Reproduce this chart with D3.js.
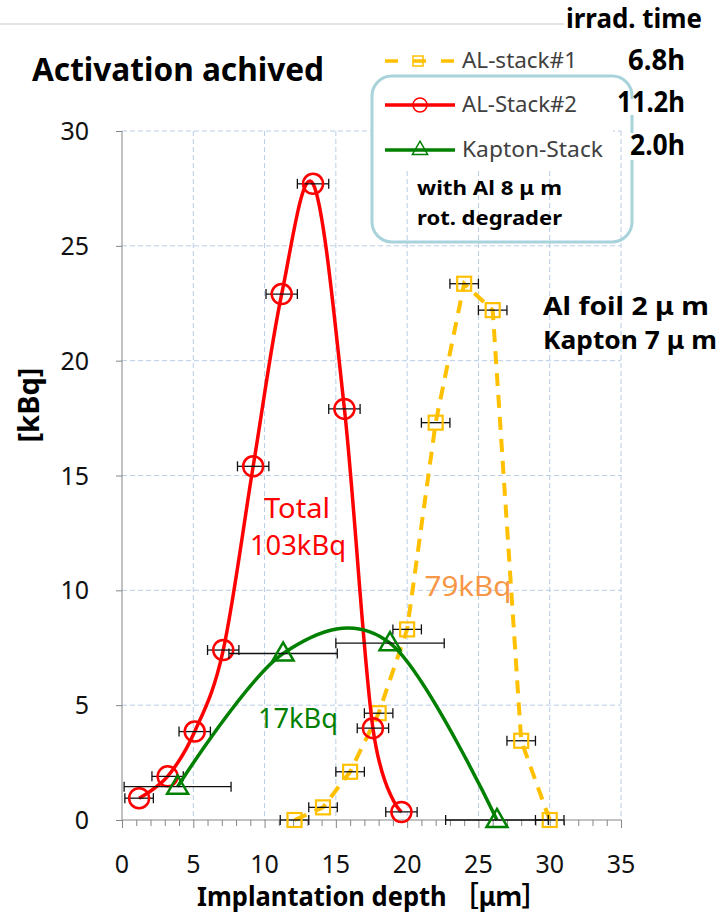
<!DOCTYPE html>
<html>
<head>
<meta charset="utf-8">
<script src="https://cdn.jsdelivr.net/npm/d3@7"></script>
<style>
  body { margin: 0; background: #fff; }
  svg { display: block; font-family: "Noto Sans", "Noto Sans CJK JP", sans-serif; }
</style>
</head>
<body>
<svg id="chart" width="724" height="916"></svg>
<script>
// ── Data ────────────────────────────────────────────────────────
const stack1X   = [12.1, 14.1, 16.0, 18.0, 20.0, 22.0, 24.0, 26.0, 28.0, 30.0];
const stack1Y   = [0.0, 0.55, 2.1, 4.65, 8.3, 17.3, 23.35, 22.2, 3.45, 0.0];
const stack1Err = [1.0, 1.0, 1.0, 1.0, 1.0, 1.0, 1.0, 1.0, 1.0, 1.0];

const stack2X   = [1.2, 3.2, 5.1, 7.1, 9.2, 11.2, 13.4, 15.6, 17.6, 19.6];
const stack2Y   = [0.95, 1.9, 3.85, 7.4, 15.4, 22.9, 27.7, 17.9, 4.0, 0.35];
const stack2Err = [1.0, 1.1, 1.1, 1.1, 1.1, 1.1, 1.1, 1.1, 1.1, 1.1];

const kaptonX   = [3.9, 11.3, 18.8, 26.3];
const kaptonY   = [1.45, 7.25, 7.7, 0.0];
const kaptonErr = [3.75, 3.8, 3.8, 3.6];

const seriesNames = ['AL-stack#1', 'AL-Stack#2', 'Kapton-Stack'];
const irradTimes  = ['6.8h', '11.2h', '2.0h'];
const xTickVals   = [0, 5, 10, 15, 20, 25, 30, 35];
const yTickVals   = [0, 5, 10, 15, 20, 25, 30];

const C_ORANGE = '#FFC000', C_RED = '#FF0000', C_GREEN = '#008000';

const svg = d3.select('#chart');
const x = d3.scaleLinear().domain([0, 35]).range([122, 621]);
const y = d3.scaleLinear().domain([0, 30]).range([820, 131]);

// ── Top rule + title ────────────────────────────────────────────
svg.append('line').attr('x1', 0).attr('x2', 564).attr('y1', 24).attr('y2', 24)
  .attr('stroke', '#c8c8c8').attr('stroke-width', 1);
svg.append('text').attr('x', 32).attr('y', 81)
  .attr('font-size', 32).attr('font-weight', 'bold')
  .attr('textLength', 292).attr('lengthAdjust', 'spacingAndGlyphs').text('Activation achived');

// ── Grid ────────────────────────────────────────────────────────
const grid = svg.append('g').attr('stroke', '#b9cde6').attr('stroke-width', 1)
  .attr('stroke-dasharray', '5,3');
xTickVals.filter(v => v > 0).forEach(v => {
  grid.append('line').attr('x1', x(v)).attr('x2', x(v)).attr('y1', y(30)).attr('y2', y(0));
});
yTickVals.filter(v => v > 0).forEach(v => {
  grid.append('line').attr('x1', x(0)).attr('x2', x(35)).attr('y1', y(v)).attr('y2', y(v));
});

// ── Legend background (white, covers grid) ──────────────────────
svg.append('rect').attr('x', 373).attr('y', 40).attr('width', 240).attr('height', 128).attr('fill', '#fff');

// ── Axes ────────────────────────────────────────────────────────
const axisCol = '#868686';
const xAxis = svg.append('g').attr('transform', `translate(0,${y(0)})`)
  .call(d3.axisBottom(x).tickValues(d3.range(0, 36, 1)).tickSize(6).tickFormat(''));
xAxis.selectAll('line').attr('stroke', axisCol);
xAxis.select('.domain').attr('stroke', axisCol).attr('d', `M${x(0)},0H${x(35)}`);
xAxis.selectAll('.tick').filter(d => d % 5 === 0).select('line').attr('y2', 8);

xTickVals.forEach(v => {
  svg.append('text').attr('x', x(v)).attr('y', 873).attr('text-anchor', 'middle')
    .attr('font-size', 25).attr('fill', '#111').text(v);
});

const yAxis = svg.append('g').attr('transform', `translate(${x(0)},0)`)
  .call(d3.axisLeft(y).tickValues(yTickVals).tickSize(6).tickFormat(''));
yAxis.selectAll('line').attr('stroke', axisCol);
yAxis.select('.domain').attr('stroke', axisCol).attr('d', `M0,${y(30)}V${y(0)}`);
yTickVals.forEach(v => {
  svg.append('text').attr('x', 89).attr('y', y(v) + 9).attr('text-anchor', 'end')
    .attr('font-size', 25).attr('fill', '#111').text(v);
});

svg.append('text').attr('x', 197).attr('y', 906)
  .attr('font-size', 27).attr('font-weight', 'bold')
  .attr('textLength', 350).attr('lengthAdjust', 'spacingAndGlyphs')
  .text('Implantation depth ［μｍ］');
svg.append('text').attr('transform', 'translate(39,405) rotate(-90)').attr('text-anchor', 'middle')
  .attr('font-size', 28).attr('font-weight', 'bold')
  .attr('textLength', 75).attr('lengthAdjust', 'spacingAndGlyphs').text('[kBq]');

// ── Series ──────────────────────────────────────────────────────
const zip = (xs, ys, es) => xs.map((v, i) => ({ x: v, y: ys[i], e: es[i] }));
const s1 = zip(stack1X, stack1Y, stack1Err);
const s2 = zip(stack2X, stack2Y, stack2Err);
const s3 = zip(kaptonX, kaptonY, kaptonErr);

const plot = svg.append('g');

function errorBars(data) {
  const g = plot.append('g').attr('stroke', '#111').attr('stroke-width', 1.3);
  data.forEach(d => {
    const yy = y(d.y), x0 = x(d.x - d.e), x1 = x(d.x + d.e);
    g.append('line').attr('x1', x0).attr('x2', x1).attr('y1', yy).attr('y2', yy);
    g.append('line').attr('x1', x0).attr('x2', x0).attr('y1', yy - 5).attr('y2', yy + 5);
    g.append('line').attr('x1', x1).attr('x2', x1).attr('y1', yy - 5).attr('y2', yy + 5);
  });
}

const lineStraight = d3.line().x(d => x(d.x)).y(d => y(d.y));
// Excel-style smoothed line ≈ uniform Catmull-Rom
const lineSmooth = d3.line().x(d => x(d.x)).y(d => y(d.y)).curve(d3.curveCatmullRom.alpha(0));

// AL-stack#1
plot.append('path').datum(s1).attr('d', lineStraight).attr('fill', 'none')
  .attr('stroke', C_ORANGE).attr('stroke-width', 4).attr('stroke-dasharray', '13,9');
errorBars(s1);
plot.append('g').selectAll('rect').data(s1).join('rect')
  .attr('x', d => x(d.x) - 7).attr('y', d => y(d.y) - 7).attr('width', 14).attr('height', 14)
  .attr('fill', 'none').attr('stroke', C_ORANGE).attr('stroke-width', 2.2);

// AL-Stack#2
plot.append('path').datum(s2).attr('d', lineSmooth).attr('fill', 'none')
  .attr('stroke', C_RED).attr('stroke-width', 3.5);
errorBars(s2);
plot.append('g').selectAll('circle').data(s2).join('circle')
  .attr('cx', d => x(d.x)).attr('cy', d => y(d.y)).attr('r', 10)
  .attr('fill', 'none').attr('stroke', C_RED).attr('stroke-width', 2.5);

// Kapton-Stack
plot.append('path').datum(s3).attr('d', lineSmooth).attr('fill', 'none')
  .attr('stroke', C_GREEN).attr('stroke-width', 3.5);
errorBars(s3);
const tri = d3.symbol().type(d3.symbolTriangle).size(190);
plot.append('g').selectAll('path').data(s3).join('path')
  .attr('transform', d => `translate(${x(d.x)},${y(d.y) + 1})`).attr('d', tri)
  .attr('fill', 'none').attr('stroke', C_GREEN).attr('stroke-width', 2.5);

// ── Annotations ────────────────────────────────────────────────
function note(txt, cx, by, w, col) {
  svg.append('text').attr('x', cx - w / 2).attr('y', by).attr('font-size', 27).attr('fill', col)
    .attr('textLength', w).attr('lengthAdjust', 'spacingAndGlyphs').text(txt);
}
note('Total', 297, 518, 66, C_RED);
note('103kBq', 298, 555, 96, C_RED);
note('79kBq', 468, 596, 87, '#F79646');
note('17kBq', 298, 728, 80, C_GREEN);

svg.append('text').attr('x', 543).attr('y', 315).attr('font-size', 25).attr('font-weight', 'bold')
  .attr('textLength', 166).attr('lengthAdjust', 'spacingAndGlyphs').text('Al foil 2 μ m');
svg.append('text').attr('x', 543).attr('y', 349).attr('font-size', 25).attr('font-weight', 'bold')
  .attr('textLength', 174).attr('lengthAdjust', 'spacingAndGlyphs').text('Kapton 7 μ m');

// ── Legend ─────────────────────────────────────────────────────
svg.append('rect').attr('x', 372).attr('y', 76).attr('width', 260).attr('height', 166).attr('rx', 20)
  .attr('fill', 'none').attr('stroke', '#a8d3db').attr('stroke-width', 3);
svg.append('rect').attr('x', 626).attr('y', 99).attr('width', 64).attr('height', 16).attr('fill', '#fff');
svg.append('rect').attr('x', 626).attr('y', 133).attr('width', 64).attr('height', 27).attr('fill', '#fff');

const legendY = [61, 105, 150];
const lg = svg.append('g');
// orange dashed + square
lg.append('line').attr('x1', 385).attr('x2', 455).attr('y1', legendY[0]).attr('y2', legendY[0])
  .attr('stroke', C_ORANGE).attr('stroke-width', 3.5).attr('stroke-dasharray', '13,15');
lg.append('rect').attr('x', 413).attr('y', legendY[0] - 5).attr('width', 10).attr('height', 10)
  .attr('fill', 'none').attr('stroke', C_ORANGE).attr('stroke-width', 1.5);
lg.append('line').attr('x1', 413).attr('x2', 423).attr('y1', legendY[0]).attr('y2', legendY[0])
  .attr('stroke', C_ORANGE).attr('stroke-width', 1.5);
// red line + circle
lg.append('line').attr('x1', 385).attr('x2', 455).attr('y1', legendY[1]).attr('y2', legendY[1])
  .attr('stroke', C_RED).attr('stroke-width', 3.5);
lg.append('circle').attr('cx', 420).attr('cy', legendY[1]).attr('r', 7)
  .attr('fill', 'none').attr('stroke', C_RED).attr('stroke-width', 1.5);
// green line + triangle
lg.append('line').attr('x1', 385).attr('x2', 455).attr('y1', legendY[2]).attr('y2', legendY[2])
  .attr('stroke', C_GREEN).attr('stroke-width', 3.5);
lg.append('path').attr('transform', `translate(420,${legendY[2]})`)
  .attr('d', d3.symbol().type(d3.symbolTriangle).size(100))
  .attr('fill', 'none').attr('stroke', C_GREEN).attr('stroke-width', 1.5);

const legendW = [115, 115, 141];
seriesNames.forEach((n, i) => {
  lg.append('text').attr('x', 462).attr('y', legendY[i] + 7).attr('font-size', 22)
    .attr('fill', '#404040').attr('textLength', legendW[i]).attr('lengthAdjust', 'spacingAndGlyphs')
    .text(n);
});
svg.append('text').attr('x', 417).attr('y', 195).attr('font-size', 19).attr('font-weight', 'bold')
  .attr('textLength', 145).attr('lengthAdjust', 'spacingAndGlyphs').text('with Al 8 μ m');
svg.append('text').attr('x', 417).attr('y', 225).attr('font-size', 19).attr('font-weight', 'bold')
  .attr('textLength', 145).attr('lengthAdjust', 'spacingAndGlyphs').text('rot. degrader');

// ── Irradiation times ──────────────────────────────────────────
svg.append('text').attr('x', 566).attr('y', 28)
  .attr('font-size', 27).attr('font-weight', 'bold')
  .attr('textLength', 136).attr('lengthAdjust', 'spacingAndGlyphs').text('irrad. time');
const timeL = [628, 617, 630];
const timeBase = [70, 112, 155];
irradTimes.forEach((t, i) => {
  svg.append('text').attr('x', timeL[i]).attr('y', timeBase[i])
    .attr('font-size', 29).attr('font-weight', 'bold')
    .attr('textLength', 685 - timeL[i]).attr('lengthAdjust', 'spacingAndGlyphs').text(t);
});
</script>
</body>
</html>
